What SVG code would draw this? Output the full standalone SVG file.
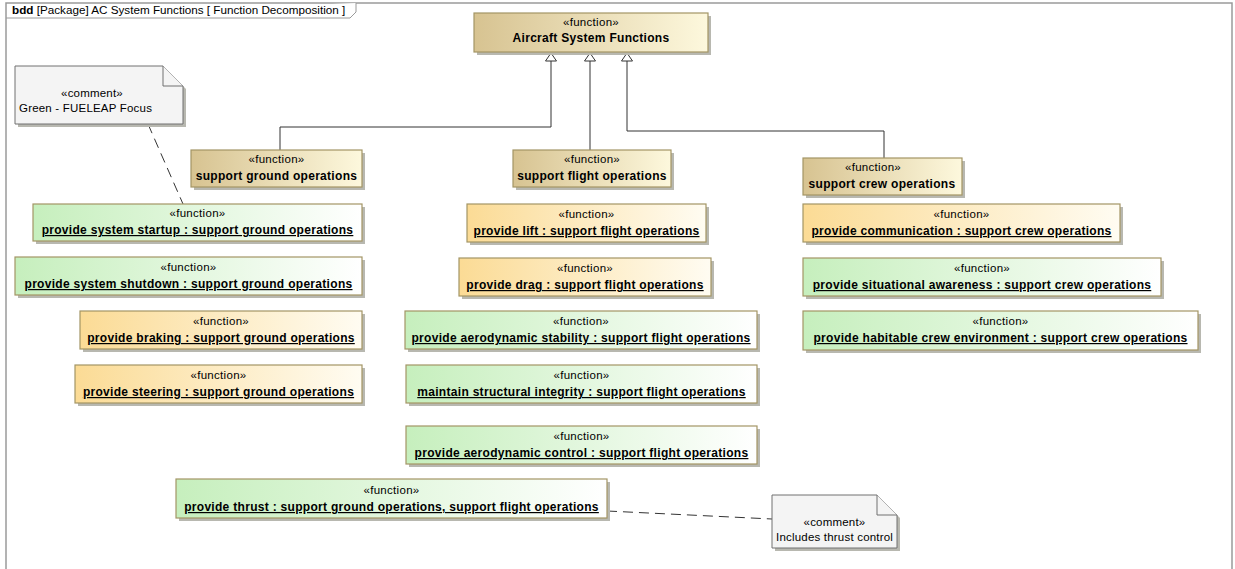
<svg xmlns="http://www.w3.org/2000/svg" width="1235" height="569" viewBox="0 0 1235 569">
  <defs>
    <linearGradient id="gTan" x1="0" y1="0" x2="1" y2="0">
      <stop offset="0" stop-color="#d7c391"/>
      <stop offset="1" stop-color="#fdf8dd"/>
    </linearGradient>
    <linearGradient id="gGreen" x1="0" y1="0" x2="1" y2="0">
      <stop offset="0" stop-color="#c6efbd"/>
      <stop offset="1" stop-color="#ffffff"/>
    </linearGradient>
    <linearGradient id="gOrange" x1="0" y1="0" x2="1" y2="0">
      <stop offset="0" stop-color="#fbdb95"/>
      <stop offset="1" stop-color="#fffcf2"/>
    </linearGradient>
    <!-- hollow generalization triangle, tip at the path end -->
    <marker id="genArrow" viewBox="0 0 9 12" refX="8.5" refY="6" markerWidth="9" markerHeight="12" markerUnits="userSpaceOnUse" orient="auto">
      <path d="M8.5,6 L0.5,0.5 L0.5,11.5 Z" fill="#ffffff" stroke="#333" stroke-width="1"/>
    </marker>
    <style>
      .frame { fill: none; stroke: #9a9a9a; stroke-width: 1.5; }
      .tab { fill: #ffffff; stroke: #9a9a9a; stroke-width: 1; }
      .title { font-family: "Liberation Sans", Arial, sans-serif; font-size: 11.7px; fill: #000; }
      .shadow { fill: #b8b8b0; }
      .box { stroke: #a39565; stroke-width: 1.2; }
      .tan { fill: url(#gTan); }
      .green { fill: url(#gGreen); }
      .orange { fill: url(#gOrange); }
      .st { font-family: "Liberation Sans", Arial, sans-serif; font-size: 11.5px; letter-spacing: 0.3px; fill: #000; text-anchor: middle; }
      .nm { font-family: "Liberation Sans", Arial, sans-serif; font-size: 12px; letter-spacing: 0.3px; font-weight: bold; fill: #000; text-anchor: middle; }
      .ul { text-decoration: underline; }
      .note { fill: #f4f4f4; stroke: #707070; stroke-width: 1; }
      .noteTxt { font-family: "Liberation Sans", Arial, sans-serif; font-size: 11.5px; letter-spacing: 0.2px; fill: #000; }
      .gen { fill: none; stroke: #333; stroke-width: 1; }
      .anchor { fill: none; stroke: #333; stroke-width: 1; stroke-dasharray: 10 6; }
    </style>
  </defs>

  <rect width="1235" height="569" fill="#ffffff"/>

  <!-- diagram frame and heading tab -->
  <g id="frame">
    <path class="frame" d="M6,575 L6,3 L1232,3 L1232,575"/>
    <path class="tab" d="M6,18 L350,18 L356,12 L356,3"/>
    <text class="title" x="12" y="14"><tspan font-weight="bold">bdd</tspan> [Package] AC System Functions [ Function Decomposition ]</text>
  </g>

  <!-- connectors -->
  <g id="connectors">
    <path class="gen" d="M280,150 L280,127 L551,127 L551,53" marker-end="url(#genArrow)"/>
    <path class="gen" d="M590,150 L590,53" marker-end="url(#genArrow)"/>
    <path class="gen" d="M884,158 L884,131 L627,131 L627,53" marker-end="url(#genArrow)"/>
    <path class="anchor" d="M148,124 L183,204"/>
    <path class="anchor" d="M607,511 L772,519"/>
  </g>

  <!-- top function -->
  <g id="aircraftSystemFunctions">
    <rect class="shadow" x="477" y="16" width="234" height="39"/>
    <rect class="box tan" x="474" y="13" width="234" height="39"/>
    <text class="st" x="591" y="26">«function»</text>
    <text class="nm" x="591" y="42">Aircraft System Functions</text>
  </g>

  <!-- second level -->
  <g id="supportGroundOperations">
    <rect class="shadow" x="194" y="153" width="171" height="37"/>
    <rect class="box tan" x="191" y="150" width="171" height="37"/>
    <text class="st" x="276.5" y="163">«function»</text>
    <text class="nm" x="276.5" y="180">support ground operations</text>
  </g>
  <g id="supportFlightOperations">
    <rect class="shadow" x="516" y="153" width="158" height="37"/>
    <rect class="box tan" x="513" y="150" width="158" height="37"/>
    <text class="st" x="592" y="163">«function»</text>
    <text class="nm" x="592" y="180">support flight operations</text>
  </g>
  <g id="supportCrewOperations">
    <rect class="shadow" x="806" y="161" width="159" height="37"/>
    <rect class="box tan" x="803" y="158" width="159" height="37"/>
    <text class="st" x="873" y="171">«function»</text>
    <text class="nm" x="882" y="188">support crew operations</text>
  </g>

  <!-- ground operations children -->
  <g id="provideSystemStartup">
    <rect class="shadow" x="36" y="207" width="329" height="37"/>
    <rect class="box green" x="33" y="204" width="329" height="37"/>
    <text class="st" x="197.5" y="217">«function»</text>
    <text class="nm ul" x="197.5" y="234">provide system startup : support ground operations</text>
  </g>
  <g id="provideSystemShutdown">
    <rect class="shadow" x="18" y="260" width="347" height="38"/>
    <rect class="box green" x="15" y="257" width="347" height="38"/>
    <text class="st" x="188.5" y="271">«function»</text>
    <text class="nm ul" x="188.5" y="288">provide system shutdown : support ground operations</text>
  </g>
  <g id="provideBraking">
    <rect class="shadow" x="83" y="314" width="282" height="38"/>
    <rect class="box orange" x="80" y="311" width="282" height="38"/>
    <text class="st" x="221" y="325">«function»</text>
    <text class="nm ul" x="221" y="342">provide braking : support ground operations</text>
  </g>
  <g id="provideSteering">
    <rect class="shadow" x="78" y="368" width="287" height="38"/>
    <rect class="box orange" x="75" y="365" width="287" height="38"/>
    <text class="st" x="218.5" y="379">«function»</text>
    <text class="nm ul" x="218.5" y="396">provide steering : support ground operations</text>
  </g>

  <!-- flight operations children -->
  <g id="provideLift">
    <rect class="shadow" x="470" y="207" width="239" height="38"/>
    <rect class="box orange" x="467" y="204" width="239" height="38"/>
    <text class="st" x="586.5" y="218">«function»</text>
    <text class="nm ul" x="586.5" y="235">provide lift : support flight operations</text>
  </g>
  <g id="provideDrag">
    <rect class="shadow" x="462" y="261" width="252" height="38"/>
    <rect class="box orange" x="459" y="258" width="252" height="38"/>
    <text class="st" x="585" y="272">«function»</text>
    <text class="nm ul" x="585" y="289">provide drag : support flight operations</text>
  </g>
  <g id="provideAerodynamicStability">
    <rect class="shadow" x="408" y="314" width="352" height="38"/>
    <rect class="box green" x="405" y="311" width="352" height="38"/>
    <text class="st" x="581" y="325">«function»</text>
    <text class="nm ul" x="581" y="342">provide aerodynamic stability : support flight operations</text>
  </g>
  <g id="maintainStructuralIntegrity">
    <rect class="shadow" x="409" y="368" width="351" height="38"/>
    <rect class="box green" x="406" y="365" width="351" height="38"/>
    <text class="st" x="581.5" y="379">«function»</text>
    <text class="nm ul" x="581.5" y="396">maintain structural integrity : support flight operations</text>
  </g>
  <g id="provideAerodynamicControl">
    <rect class="shadow" x="409" y="429" width="351" height="38"/>
    <rect class="box green" x="406" y="426" width="351" height="38"/>
    <text class="st" x="581.5" y="440">«function»</text>
    <text class="nm ul" x="581.5" y="457">provide aerodynamic control : support flight operations</text>
  </g>
  <g id="provideThrust">
    <rect class="shadow" x="179" y="482" width="431" height="39"/>
    <rect class="box green" x="176" y="479" width="431" height="39"/>
    <text class="st" x="391.5" y="494">«function»</text>
    <text class="nm ul" x="391.5" y="511">provide thrust : support ground operations, support flight operations</text>
  </g>

  <!-- crew operations children -->
  <g id="provideCommunication">
    <rect class="shadow" x="806" y="207" width="317" height="38"/>
    <rect class="box orange" x="803" y="204" width="317" height="38"/>
    <text class="st" x="961.5" y="218">«function»</text>
    <text class="nm ul" x="961.5" y="235">provide communication : support crew operations</text>
  </g>
  <g id="provideSituationalAwareness">
    <rect class="shadow" x="806" y="261" width="358" height="38"/>
    <rect class="box green" x="803" y="258" width="358" height="38"/>
    <text class="st" x="982" y="272">«function»</text>
    <text class="nm ul" x="982" y="289">provide situational awareness : support crew operations</text>
  </g>
  <g id="provideHabitableCrewEnvironment">
    <rect class="shadow" x="806" y="314" width="395" height="39"/>
    <rect class="box green" x="803" y="311" width="395" height="39"/>
    <text class="st" x="1000.5" y="325">«function»</text>
    <text class="nm ul" x="1000.5" y="342">provide habitable crew environment : support crew operations</text>
  </g>

  <!-- comments -->
  <g id="commentFueleapFocus">
    <path class="shadow" d="M18,69 L166,69 L186,89 L186,127 L18,127 Z"/>
    <path class="note" d="M15,66 L163,66 L183,86 L183,124 L15,124 Z"/>
    <path class="note" d="M163,66 L163,86 L183,86"/>
    <text class="noteTxt" x="92" y="97" text-anchor="middle">«comment»</text>
    <text class="noteTxt" x="19" y="112">Green - FUELEAP Focus</text>
  </g>
  <g id="commentThrustControl">
    <path class="shadow" d="M775,498 L880,498 L900,518 L900,551 L775,551 Z"/>
    <path class="note" d="M772,495 L877,495 L897,515 L897,548 L772,548 Z"/>
    <path class="note" d="M877,495 L877,515 L897,515"/>
    <text class="noteTxt" x="834.5" y="526" text-anchor="middle">«comment»</text>
    <text class="noteTxt" x="776" y="541">Includes thrust control</text>
  </g>
</svg>
